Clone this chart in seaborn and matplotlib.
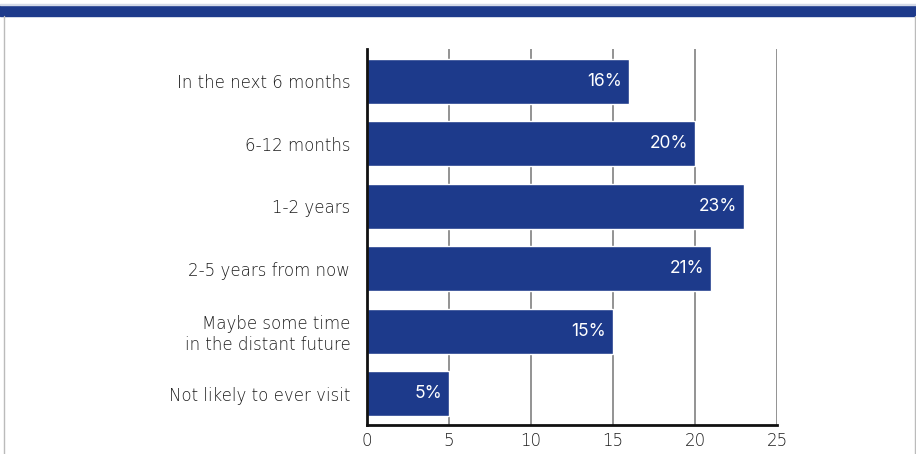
import matplotlib
matplotlib.use("Agg")
import matplotlib.pyplot as plt
import matplotlib.patches as mpatches
from matplotlib.lines import Line2D
import seaborn as sns
import pandas as pd

categories = [
    "In the next 6 months",
    "6-12 months",
    "1-2 years",
    "2-5 years from now",
    "Maybe some time\nin the distant future",
    "Not likely to ever visit",
]
values = [16, 20, 23, 21, 15, 5]
x_ticks = [0, 5, 10, 15, 20, 25]

NAVY = "#1d3a8b"
TEXT = "#1c1c1c"

sns.set_theme(style="white")
plt.rcParams["font.family"] = ["DejaVu Sans"]
plt.rcParams["font.weight"] = "ultralight"

df = pd.DataFrame({"when": categories, "share": values})

fig = plt.figure(figsize=(9.16, 4.54), dpi=100)
ax = fig.add_axes([367 / 916, 1 - 425 / 454, 410 / 916, 376 / 454])

sns.barplot(data=df, y="when", x="share", orient="h", color=NAVY,
            saturation=1, width=0.72, ax=ax, zorder=3)

ax.set_xlim(0, 25)
ax.set_ylim(len(categories) - 0.5, -0.52)
ax.set_xticks(x_ticks)
ax.set_xticklabels([str(t) for t in x_ticks], fontsize=12, color=TEXT)
ax.tick_params(axis="x", length=0, pad=5)
ax.tick_params(axis="y", length=0, pad=12)
for lbl in ax.get_yticklabels():
    lbl.set_fontsize(12)
    lbl.set_color(TEXT)
    lbl.set_horizontalalignment("right")
    lbl.set_multialignment("right")
    lbl.set_linespacing(1.2)

ax.set_xlabel("")
ax.set_ylabel("")
ax.grid(False)
for t in x_ticks[1:]:
    ax.axvline(t, color="#808080", lw=1.2, zorder=1)

for side in ("top", "right"):
    ax.spines[side].set_visible(False)
for side in ("left", "bottom"):
    ax.spines[side].set_color("#111111")
    ax.spines[side].set_linewidth(2)
    ax.spines[side].set_zorder(4)

for patch, v in zip(ax.patches, values):
    y = patch.get_y() + patch.get_height() / 2
    ax.annotate(f"{v}%", xy=(v, y), xytext=(-5, 0), textcoords="offset points",
                ha="right", va="center", color="white", fontsize=12.5,
                family=["Inter", "DejaVu Sans"], weight="normal", zorder=5)

# header band and frame
fig.patches.append(mpatches.Rectangle((0, 1 - 15.5 / 454), 1, 10.5 / 454,
                                      transform=fig.transFigure, color=NAVY, zorder=0))
fig.patches.append(mpatches.Rectangle((0, 1 - 5 / 454), 1, 1.5 / 454,
                                      transform=fig.transFigure, color="#d5dbe8", zorder=0))
fig.lines.append(Line2D([3.5 / 916, 3.5 / 916], [0, 1 - 15.5 / 454],
                        transform=fig.transFigure, color="#bbbbbb", lw=1))
fig.lines.append(Line2D([914.5 / 916, 914.5 / 916], [0, 1 - 15.5 / 454],
                        transform=fig.transFigure, color="#bbbbbb", lw=1))

fig.savefig("out.png", dpi=100)
